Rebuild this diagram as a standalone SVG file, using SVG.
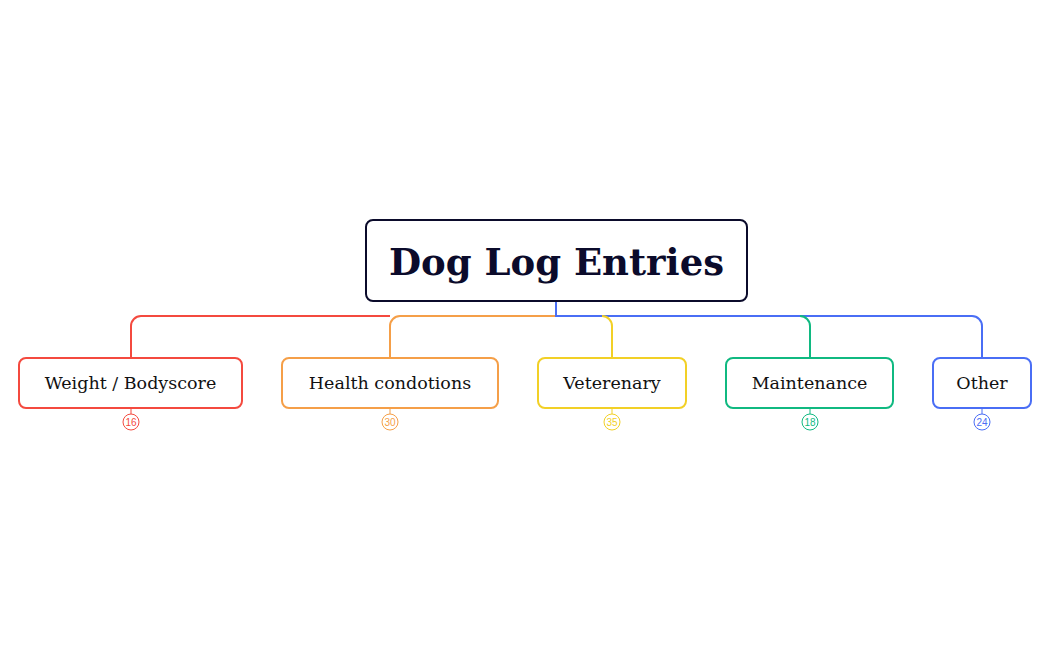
<svg xmlns="http://www.w3.org/2000/svg" width="1050" height="650" viewBox="0 0 1050 650">
<style>
.b{fill:#fff;stroke-width:2}
.t{font-family:"DejaVu Serif","Liberation Serif",serif;font-size:17.5px;fill:#111;text-anchor:middle}
.c{fill:none;stroke-width:2}
.n{fill:#fff;stroke-width:1}
.nt{font-family:"Liberation Sans",sans-serif;font-size:10px;text-anchor:middle}
</style>
<rect width="1050" height="650" fill="#fff"/>
<g id="connectors">
<path class="c" stroke="#f44a3f" d="M390 316H141a10 10 0 0 0-10 10V358"/>
<path class="c" stroke="#f59f48" d="M556 316H400a10 10 0 0 0-10 10V358"/>
<path class="c" stroke="#4a6ef5" d="M556 301V316H972a10 10 0 0 1 10 10V358"/>
<path class="c" stroke="#f2d026" d="M602 316a10 10 0 0 1 10 10V358"/>
<path class="c" stroke="#10b981" d="M800 316a10 10 0 0 1 10 10V358"/>
</g>
<g id="root"><rect x="366" y="220" width="381" height="81" rx="7" fill="#fff" stroke="#0b0b2b" stroke-width="2"/>
<text x="556.5" y="275" font-family="DejaVu Serif,serif" font-weight="bold" font-size="37" fill="#0b0b2b" text-anchor="middle">Dog Log Entries</text></g>
<g id="n1"><rect class="b" stroke="#f44a3f" x="19" y="358" width="223" height="50" rx="7"/><text class="t" x="130.5" y="389">Weight / Bodyscore</text>
<path d="M131 408V414" stroke="#f44a3f"/><circle class="n" stroke="#f44a3f" cx="131" cy="422" r="8"/><text class="nt" fill="#f44a3f" x="131" y="425.5">16</text></g>
<g id="n2"><rect class="b" stroke="#f59f48" x="282" y="358" width="216" height="50" rx="7"/><text class="t" x="390" y="389">Health condotions</text>
<path d="M390 408V414" stroke="#f59f48"/><circle class="n" stroke="#f59f48" cx="390" cy="422" r="8"/><text class="nt" fill="#f59f48" x="390" y="425.5">30</text></g>
<g id="n3"><rect class="b" stroke="#f2d026" x="538" y="358" width="148" height="50" rx="7"/><text class="t" x="612" y="389">Veterenary</text>
<path d="M612 408V414" stroke="#f2d026"/><circle class="n" stroke="#f2d026" cx="612" cy="422" r="8"/><text class="nt" fill="#f2d026" x="612" y="425.5">35</text></g>
<g id="n4"><rect class="b" stroke="#10b981" x="726" y="358" width="167" height="50" rx="7"/><text class="t" x="809.5" y="389">Maintenance</text>
<path d="M810 408V414" stroke="#10b981"/><circle class="n" stroke="#10b981" cx="810" cy="422" r="8"/><text class="nt" fill="#10b981" x="810" y="425.5">18</text></g>
<g id="n5"><rect class="b" stroke="#4a6ef5" x="933" y="358" width="98" height="50" rx="7"/><text class="t" x="982" y="389">Other</text>
<path d="M982 408V414" stroke="#4a6ef5"/><circle class="n" stroke="#4a6ef5" cx="982" cy="422" r="8"/><text class="nt" fill="#4a6ef5" x="982" y="425.5">24</text></g>
</svg>
